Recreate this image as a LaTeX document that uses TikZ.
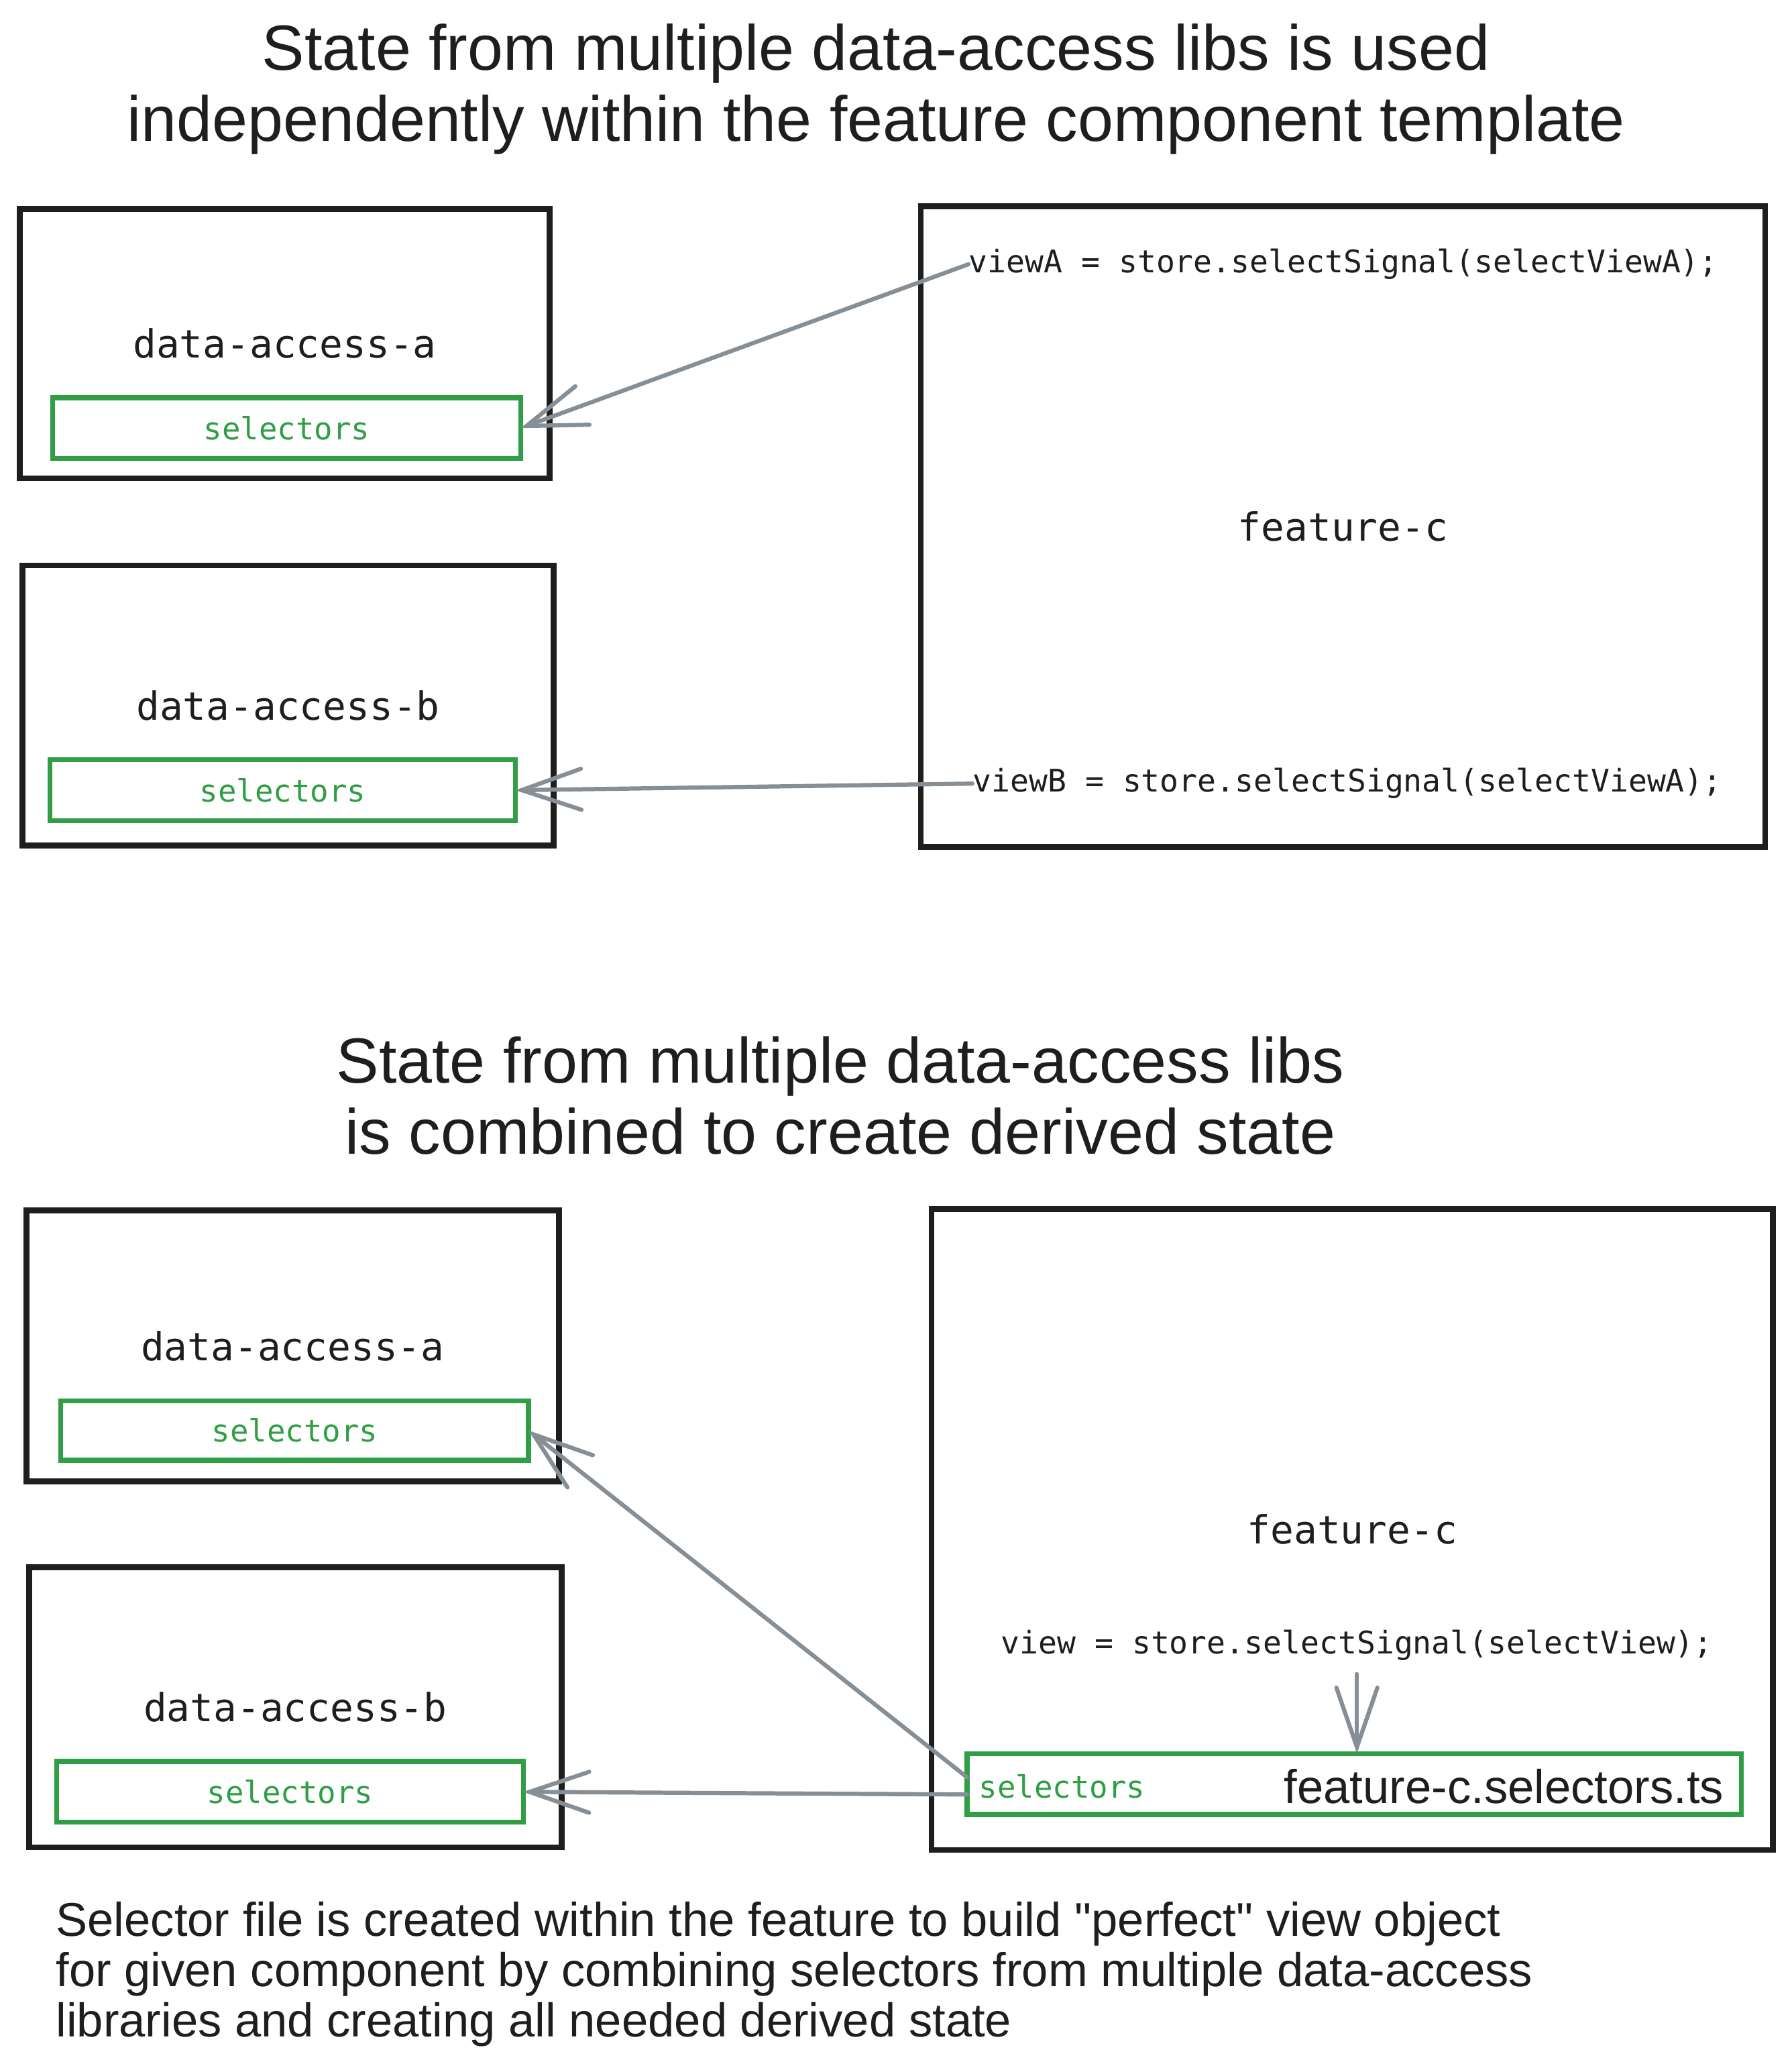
\documentclass[tikz,border=0pt]{standalone}
\usepackage{fontspec}
\setmonofont{DejaVu Sans Mono}
\newfontfamily\handfont{Liberation Sans}
\usetikzlibrary{arrows.meta,positioning}
\definecolor{inkblack}{HTML}{1E1E1E}
\definecolor{selgreen}{HTML}{2F9E44}
\definecolor{arrowgray}{HTML}{868E96}

\begin{document}
\begin{tikzpicture}

\tikzstyle{box}=[draw=inkblack,line width=2.5pt,outer sep=0pt,text=inkblack,font=\ttfamily\fontsize{16.7}{20}\selectfont]
\tikzstyle{selbox}=[draw=selgreen,line width=2.1pt,outer sep=0pt,text=selgreen,font=\ttfamily\fontsize{13.2}{16}\selectfont]
\tikzstyle{code}=[inner sep=0pt,text=inkblack,font=\ttfamily\fontsize{13.4}{16}\selectfont]
\tikzstyle{link}=[draw=arrowgray,line width=1.8pt,line cap=round,-{Straight Barb[length=0.9cm,width=0.62cm,line cap=round]}]
\tikzstyle{title}=[align=center,text=inkblack,inner sep=0pt,font=\handfont\fontsize{27.5}{30.7}\selectfont]

\useasboundingbox (0,0) rectangle (27.12,-31.36);

%upper diagram
\node (title1) [title] at (13.26,-1.35) {State from multiple data-access libs is used\\independently within the feature component template};

\node (libA1) [box,minimum width=8.02cm,minimum height=4.08cm] at (4.31,-5.20) {data-access-a};
\node (selA1) [selbox,minimum width=7.08cm,minimum height=0.92cm] at (4.34,-6.48) {selectors};

\node (libB1) [box,minimum width=8.04cm,minimum height=4.24cm] at (4.36,-10.68) {data-access-b};
\node (selB1) [selbox,minimum width=7.04cm,minimum height=0.92cm] at (4.28,-11.96) {selectors};

\node (feat1) [box,minimum width=12.78cm,minimum height=9.70cm] at (20.33,-7.97) {feature-c};
\node (viewA) [code,anchor=west] at (14.66,-4.00) {viewA = store.selectSignal(selectViewA);};
\node (viewB) [code,anchor=west] at (14.72,-11.86) {viewB = store.selectSignal(selectViewA);};

\draw [link] (viewA.west) -- (selA1.east);
\draw [link] (viewB.west) -- (selB1.east);

%lower diagram
\node (title2) [title] at (12.72,-16.58) {State from multiple data-access libs\\is combined to create derived state};

\node (libA2) [box,minimum width=8.06cm,minimum height=4.10cm] at (4.43,-20.37) {data-access-a};
\node (selA2) [selbox,minimum width=7.08cm,minimum height=0.90cm] at (4.46,-21.65) {selectors};

\node (libB2) [box,minimum width=8.06cm,minimum height=4.24cm] at (4.47,-25.84) {data-access-b};
\node (selB2) [selbox,minimum width=7.06cm,minimum height=0.92cm] at (4.39,-27.12) {selectors};

\node (feat2) [box,minimum width=12.74cm,minimum height=9.70cm] at (20.47,-23.15) {feature-c};
\node (view) [code] at (20.54,-24.90) {view = store.selectSignal(selectView);};

\node (selF2) [selbox,minimum width=11.72cm,minimum height=0.92cm] at (20.50,-27.00) {};
\node (selF2txt) [selbox,draw=none,inner sep=0pt,anchor=west] at (14.82,-27.04) {selectors};
\node (selF2file) [title,anchor=east,font=\handfont\fontsize{20.4}{24}\selectfont] at (26.10,-27.04) {feature-c.selectors.ts};

\draw [link] (view.south) ++(0,-0.2) coordinate (viewdown) (viewdown) -- (selF2.north -| viewdown);
\draw [link] ([yshift=0.1cm]selF2.west) -- (selA2.east);
\draw [link] ([yshift=-0.16cm]selF2.west) -- (selB2.east);

\node (note) [anchor=north west,align=left,inner sep=0pt,text=inkblack,font=\handfont\fontsize{20.4}{21.6}\selectfont] at (0.84,-28.78) {Selector file is created within the feature to build "perfect" view object\\for given component by combining selectors from multiple data-access\\libraries and creating all needed derived state};

\end{tikzpicture}
\end{document}
